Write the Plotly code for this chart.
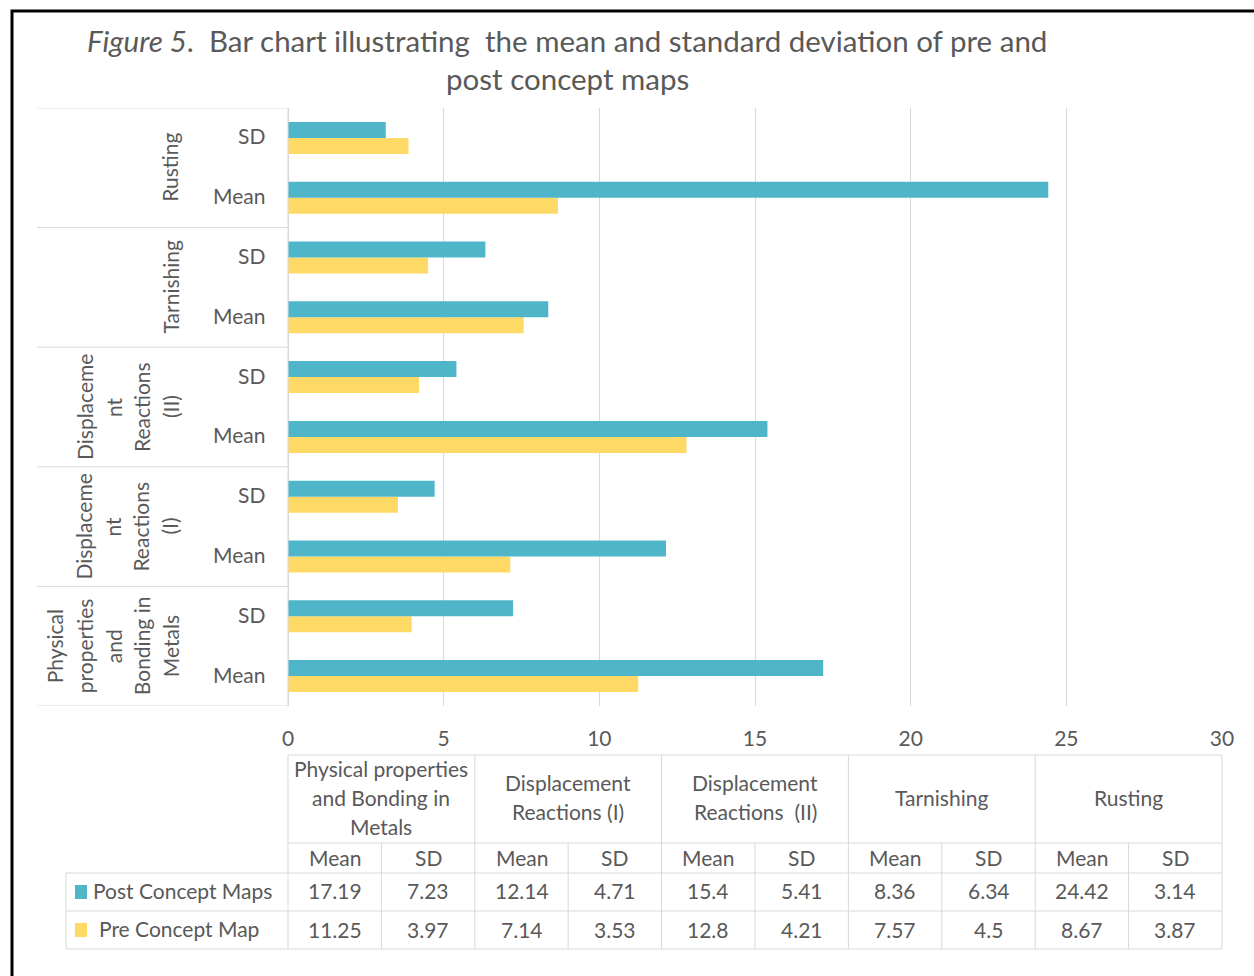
import plotly.graph_objects as go

# ---------------- data ----------------
topics = ["Physical properties and Bonding in Metals", "Displacement Reactions (I)",
          "Displacement Reactions  (II)", "Tarnishing", "Rusting"]
topic_axis_lines = [["Physical", "properties", "and", "Bonding in", "Metals"],
                    ["Displaceme", "nt", "Reactions", "(I)"],
                    ["Displaceme", "nt", "Reactions", "(II)"],
                    ["Tarnishing"],
                    ["Rusting"]]
topic_table_lines = [["Physical properties", "and Bonding in", "Metals"],
                     ["Displacement", "Reactions (I)"],
                     ["Displacement", "Reactions\u00a0\u00a0(II)"],
                     ["Tarnishing"],
                     ["Rusting"]]
stats = ["Mean", "SD"]
post_values = [17.19, 7.23, 12.14, 4.71, 15.4, 5.41, 8.36, 6.34, 24.42, 3.14]
pre_values = [11.25, 3.97, 7.14, 3.53, 12.8, 4.21, 7.57, 4.5, 8.67, 3.87]
series_names = ["Post Concept Maps", "Pre Concept Map"]
x_ticks = [0, 5, 10, 15, 20, 25, 30]

# ---------------- style ----------------
W, H = 1254, 976
L, R, T, B = 288, 1222, 108, 706
TEAL = "#4FB6CA"
GOLD = "#FFD965"
TXT = "#595959"
GRID = "#D9D9D9"
FONT = "Lato"

def X(px):
    return (px - L) / (R - L)

def Y(py):
    return (B - py) / (B - T)

n = len(post_values)
ypos = list(range(n))
ylabels = [stats[i % 2] for i in range(n)]

fig = go.Figure()
fig.add_trace(go.Bar(y=ypos, x=pre_values, orientation="h", name=series_names[1],
                     marker=dict(color=GOLD, line=dict(width=0)), showlegend=False))
fig.add_trace(go.Bar(y=ypos, x=post_values, orientation="h", name=series_names[0],
                     marker=dict(color=TEAL, line=dict(width=0)), showlegend=False))

shapes = []
annotations = []

def line(x0, y0, x1, y1, color=GRID, width=1, xref="paper", yref="paper"):
    shapes.append(dict(type="line", x0=x0, y0=y0, x1=x1, y1=y1, xref=xref, yref=yref,
                       line=dict(color=color, width=width), layer="above"))

def text(x, y, s, size=21, xanchor="center", yanchor="middle", angle=0, xref="paper", yref="paper",
         color=TXT, yshift=2, xshift=0):
    annotations.append(dict(x=x, y=y, xref=xref, yref=yref, text=s, showarrow=False,
                            xanchor=xanchor, yanchor=yanchor, textangle=angle,
                            yshift=yshift, xshift=xshift,
                            font=dict(family=FONT, size=size, color=color)))

# outer black frame
shapes.append(dict(type="rect", x0=X(12), x1=X(1275), y0=Y(11), y1=Y(1000), xref="paper", yref="paper",
                   line=dict(color="black", width=3), fillcolor="rgba(0,0,0,0)"))

# title
text(X(567), Y(42), "<i>Figure 5</i>.\u00a0\u00a0Bar chart illustrating\u00a0\u00a0the mean and standard deviation of pre and", size=29.5)
text(X(567), Y(81), "post concept maps", size=29.5)

# left category label boxes
ngroups = len(topics)
for g in range(ngroups + 1):
    yb = 2 * g - 0.5
    line(X(37), yb, 0, yb, yref="y")
line(0, -0.5, 0, n - 0.5, yref="y")

# Mean / SD labels
for i in range(n):
    text(X(266), ypos[i], ylabels[i], xanchor="right", yref="y", xshift=1)

# rotated group labels
line_x = [54, 84, 113, 141, 170]
for g, lines_ in enumerate(topic_axis_lines):
    yc = 2 * g + 0.5
    k = len(lines_)
    for j, s in enumerate(lines_):
        text(X(line_x[5 - k + j]), yc, s, angle=-90, yref="y", yshift=0)

# ---------------- data table ----------------
ty0, ty1, ty2, ty3, ty4 = 755, 843, 873, 911, 949
ncol = n
line(0, Y(ty0), 1, Y(ty0))
line(0, Y(ty1), 1, Y(ty1))
for yy in (ty2, ty3, ty4):
    line(X(66), Y(yy), 1, Y(yy))
for c in range(ncol + 1):
    y_top = ty0 if c % 2 == 0 else ty1
    line(c / ncol, Y(y_top), c / ncol, Y(ty4))
line(X(66), Y(ty2), X(66), Y(ty4))

# header topic cells
for g, lines_ in enumerate(topic_table_lines):
    xc = (2 * g + 1) / ncol
    k = len(lines_)
    yc = (ty0 + ty1) / 2
    for j, s in enumerate(lines_):
        text(xc, Y(yc + (j - (k - 1) / 2) * 29), s)
# stat row
for i in range(ncol):
    xc = (i + 0.5) / ncol
    text(xc, Y((ty1 + ty2) / 2), ylabels[i], yshift=1)
    text(xc, Y((ty2 + ty3) / 2), str(post_values[i]))
    text(xc, Y((ty3 + ty4) / 2), str(pre_values[i]), yshift=1)

# legend keys
for (yy0, yy1), col, name, tx in (((ty2, ty3), TEAL, series_names[0], 91),
                                  ((ty3, ty4), GOLD, series_names[1], 97)):
    yc = (yy0 + yy1) / 2
    shapes.append(dict(type="rect", x0=X(75), x1=X(87), y0=Y(yc - 7), y1=Y(yc + 7),
                       xref="paper", yref="paper", line=dict(width=0), fillcolor=col))
    text(X(tx), Y(yc), name, xanchor="left")

fig.update_layout(
    width=W, height=H,
    margin=dict(l=L, r=W - R, t=T, b=H - B),
    paper_bgcolor="white", plot_bgcolor="white",
    barmode="group", bargap=0.465, bargroupgap=0,
    xaxis=dict(range=[0, 30], tickvals=x_ticks, showgrid=True, gridcolor=GRID, gridwidth=1,
               zeroline=True, zerolinecolor=GRID, zerolinewidth=1, showline=False,
               ticks="", ticklabelstandoff=18,
               tickfont=dict(family=FONT, size=21, color=TXT), fixedrange=True),
    yaxis=dict(range=[-0.5, n - 0.5], showticklabels=False, showgrid=False, zeroline=False,
               showline=False, ticks="", fixedrange=True),
    shapes=shapes, annotations=annotations,
    font=dict(family=FONT, color=TXT),
)

fig.write_html("out.html")
